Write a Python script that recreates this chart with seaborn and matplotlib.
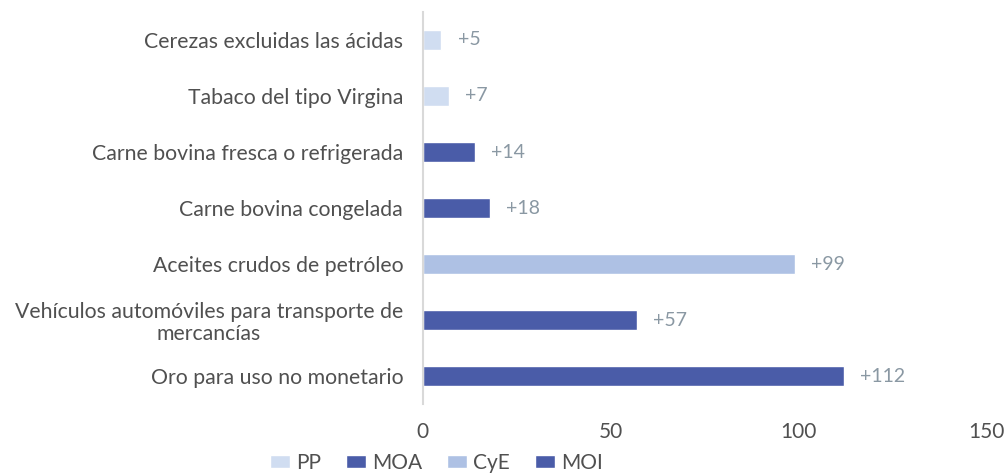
import matplotlib
matplotlib.use("Agg")
import matplotlib.pyplot as plt
import pandas as pd
import seaborn as sns

# ── Data ──────────────────────────────────────────────────────────────────────
productos = [
    "Cerezas excluidas las ácidas",
    "Tabaco del tipo Virgina",
    "Carne bovina fresca o refrigerada",
    "Carne bovina congelada",
    "Aceites crudos de petróleo",
    "Vehículos automóviles para transporte de\nmercancías",
    "Oro para uso no monetario",
]
variacion = [5, 7, 14, 18, 99, 57, 112]
rubro = ["PP", "PP", "MOA", "MOA", "CyE", "MOI", "MOI"]

rubros_orden = ["PP", "MOA", "CyE", "MOI"]
colores = {"PP": "#D0DDF1", "MOA": "#4A5CA8", "CyE": "#AEC1E4", "MOI": "#4A5CA8"}
x_ticks = [0, 50, 100, 150]

df = pd.DataFrame({"producto": productos, "valor": variacion, "rubro": rubro})

sns.set_style("white")
plt.rcParams["font.family"] = ["Lato", "DejaVu Sans"]

fig = plt.figure(figsize=(10.05, 4.75), dpi=100)
ax = fig.add_axes([0.4205, 0.149, 0.5615, 0.826])

sns.barplot(
    data=df, y="producto", x="valor", hue="rubro",
    hue_order=rubros_orden, palette=colores,
    dodge=False, width=0.36, orient="h", ax=ax,
    saturation=1,
)

# value labels
for i, v in enumerate(variacion):
    ax.text(v + 4.3, i, f"+{v}", va="center", ha="left",
            fontsize=14, color="#8A98A3")

ax.set_xlim(0, 150)
ax.set_ylim(6.5, -0.5)
ax.set_xticks(x_ticks)
ax.set_xticklabels([str(t) for t in x_ticks], fontsize=15, color="#505050")
ax.tick_params(axis="x", length=0, pad=13)
ax.tick_params(axis="y", length=0, pad=14, labelsize=15.3, labelcolor="#505050")
for lbl in ax.get_yticklabels():
    lbl.set_multialignment("center")
    lbl.set_linespacing(1.1)
ax.set_xlabel("")
ax.set_ylabel("")

for side in ["top", "right", "bottom"]:
    ax.spines[side].set_visible(False)
ax.spines["left"].set_color("#D9D9D9")
ax.spines["left"].set_linewidth(1.5)

handles, labels = ax.get_legend_handles_labels()
ax.legend_.remove()
fig.legend(
    handles, labels, loc="lower center", bbox_to_anchor=(0.434, -0.035),
    ncol=4, frameon=False, fontsize=15, handlelength=0.95, handleheight=0.6,
    handletextpad=0.3, columnspacing=1.2, labelcolor="#505050",
)

fig.savefig("out.png", dpi=100)
